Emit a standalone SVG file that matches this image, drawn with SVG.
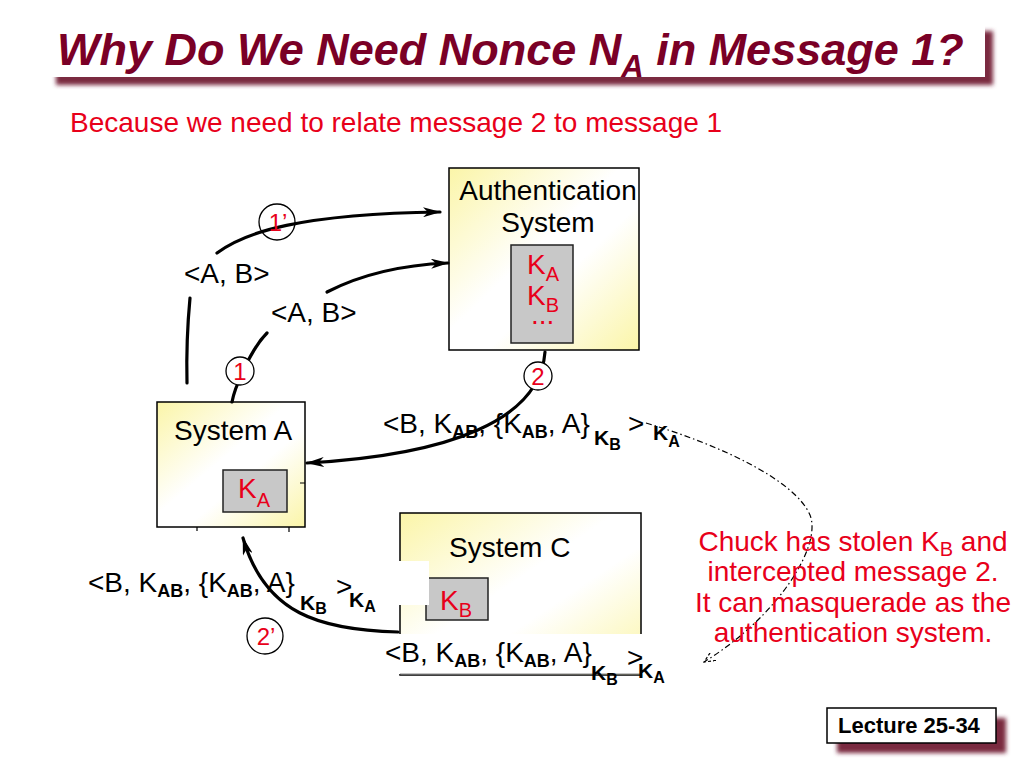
<svg xmlns="http://www.w3.org/2000/svg" width="1024" height="768" viewBox="0 0 1024 768">
<defs>
<style>
text{font-family:"Liberation Sans",Arial,Helvetica,sans-serif}
.t{font-size:28px;fill:#000}
.r{font-size:28px;fill:#e8001a}
.sb{font-size:18px;font-weight:bold}
.bk{font-size:21px;font-weight:bold;fill:#000}
.bs{font-size:16px;font-weight:bold}
.rs{font-size:20px}
.box{stroke:#000;stroke-width:1.5;fill:url(#yel)}
.key{fill:#c8c8c8;stroke:#222;stroke-width:1.5}
.conn{fill:none;stroke:#000;stroke-width:3.2;stroke-linecap:round}
.circ{stroke:#000;stroke-width:1.3}
.num{font-size:24px;fill:#e8001a;text-anchor:middle}
</style>
<linearGradient id="yel" x1="0" y1="0" x2="1" y2="1">
<stop offset="0" stop-color="#fbf5a8"/>
<stop offset="0.45" stop-color="#ffffff"/>
<stop offset="0.6" stop-color="#ffffff"/>
<stop offset="1" stop-color="#fbf5a8"/>
</linearGradient>
<filter id="blur" x="-5%" y="-20%" width="110%" height="140%">
<feGaussianBlur stdDeviation="2"/>
</filter>
<marker id="arr" markerUnits="userSpaceOnUse" markerWidth="18" markerHeight="10" viewBox="0 0 18 10" refX="17" refY="5" orient="auto">
<path d="M0,0 L18,5 L0,10 L5,5 z" fill="#000"/>
</marker>
<marker id="arr2" markerUnits="userSpaceOnUse" markerWidth="12" markerHeight="10" viewBox="0 0 12 10" refX="11" refY="5" orient="auto">
<path d="M0,0 L11,5 L0,10" fill="none" stroke="#000" stroke-width="1.2" stroke-dasharray="3 2"/>
</marker>
</defs>
<rect width="1024" height="768" fill="#fff"/>

<g id="title">
<rect x="56" y="31" width="937" height="54" fill="#7a2a40" filter="url(#blur)"/>
<rect x="48" y="23" width="937" height="54" fill="#fff"/>
<text x="57" y="65" font-size="45" font-weight="bold" font-style="italic" fill="#7a0026">Why Do We Need Nonce N<tspan font-size="31" dy="12">A</tspan><tspan dy="-12"> in Message 1?</tspan></text>
</g>

<text id="subtitle" x="70" y="132" class="r">Because we need to relate message 2 to message 1</text>

<g id="auth">
<rect x="449" y="168" width="190" height="182" class="box"/>
<text x="548" y="200" class="t" text-anchor="middle">Authentication</text>
<text x="548" y="232" class="t" text-anchor="middle">System</text>
<rect x="511" y="245" width="62" height="98" class="key"/>
<text x="527" y="274" class="r">K<tspan class="rs" dy="7">A</tspan></text>
<text x="527" y="305" class="r">K<tspan class="rs" dy="7">B</tspan></text>
<text x="531" y="324" class="r" font-size="24">...</text>
</g>

<g id="systemA">
<rect x="157" y="402" width="148" height="125" class="box"/>
<text x="174" y="440" class="t">System A</text>
<rect x="223" y="470" width="64" height="42" class="key"/>
<text x="238" y="498" class="r">K<tspan class="rs" dy="9">A</tspan></text>
<path d="M300,483 H305 M197,527 v4 M289,527 v5" stroke="#000" stroke-width="1.2"/>
</g>

<g id="systemC">
<rect x="400" y="513" width="241" height="162" class="box"/>
<text x="449" y="557" class="t">System C</text>
<rect x="426" y="578" width="62" height="42" class="key"/>
<rect x="399" y="561" width="30" height="44" fill="#fff"/>
<text x="440" y="610" class="r">K<tspan class="rs" dy="7">B</tspan></text>
<rect x="398" y="634" width="246" height="40" fill="#fff"/>
<line x1="400" y1="674" x2="641" y2="674" stroke="#888" stroke-width="1"/>
</g>

<g id="connectors">
<path class="conn" d="M187,383 Q186,340 190,298"/>
<path class="conn" d="M217,253 C245,232 300,214 440,212" marker-end="url(#arr)"/>
<path class="conn" d="M232,402 C234,390 250,350 267,333"/>
<path class="conn" d="M327,292 C360,275 400,265 448,263" marker-end="url(#arr)"/>
<path class="conn" d="M545,352 C540,420 450,455 307,463" marker-end="url(#arr)"/>
<path class="conn" d="M398,632 C320,630 265,614 243,538" marker-end="url(#arr)"/>
<path d="M646,423 C720,445 795,480 810,515 C822,545 780,615 704,662" fill="none" stroke="#000" stroke-width="1.2" stroke-dasharray="6 3 1.5 3" marker-end="url(#arr2)"/>
</g>

<g id="labels">
<text x="184" y="283" class="t">&lt;A, B&gt;</text>
<text x="271" y="322" class="t">&lt;A, B&gt;</text>

<text x="383" y="433" class="t">&lt;B, K<tspan class="sb" dy="5">AB</tspan><tspan dy="-5">, {K</tspan><tspan class="sb" dy="5">AB</tspan><tspan dy="-5">, A}</tspan></text>
<text x="594" y="445" class="bk">K<tspan class="bs" dy="5">B</tspan></text>
<text x="628" y="433" class="t">&gt;</text>
<text x="653" y="440" class="bk">K<tspan class="bs" dy="7">A</tspan></text>

<text x="88" y="592" class="t">&lt;B, K<tspan class="sb" dy="5">AB</tspan><tspan dy="-5">, {K</tspan><tspan class="sb" dy="5">AB</tspan><tspan dy="-5">, A}</tspan></text>
<text x="300" y="610" class="bk">K<tspan class="bs" dy="4">B</tspan></text>
<text x="336" y="596" class="t">&gt;</text>
<text x="349" y="607" class="bk">K<tspan class="bs" dy="5">A</tspan></text>

<text x="385" y="662" class="t">&lt;B, K<tspan class="sb" dy="5">AB</tspan><tspan dy="-5">, {K</tspan><tspan class="sb" dy="5">AB</tspan><tspan dy="-5">, A}</tspan></text>
<text x="591" y="680" class="bk">K<tspan class="bs" dy="5">B</tspan></text>
<text x="627" y="667" class="t">&gt;</text>
<text x="638" y="678" class="bk">K<tspan class="bs" dy="5">A</tspan></text>
</g>

<g id="steps">
<circle cx="277" cy="222" r="18" fill="none" class="circ"/>
<text x="278" y="231" class="num" font-size="26">1’</text>
<circle cx="240" cy="371" r="14" fill="#fff" class="circ"/>
<text x="240" y="380" class="num">1</text>
<circle cx="538" cy="376" r="14" fill="#fff" class="circ"/>
<text x="538" y="385" class="num">2</text>
<circle cx="265" cy="636" r="18" fill="#fff" class="circ"/>
<text x="266" y="645" class="num" font-size="26">2’</text>
</g>

<g id="note">
<text x="853" y="551" class="r" text-anchor="middle">Chuck has stolen K<tspan class="rs" dy="5">B</tspan><tspan dy="-5"> and</tspan></text>
<text x="853" y="581" class="r" text-anchor="middle">intercepted message 2.</text>
<text x="853" y="612" class="r" text-anchor="middle">It can masquerade as the</text>
<text x="853" y="642" class="r" text-anchor="middle">authentication system.</text>
</g>

<g id="lecture">
<rect x="837" y="718" width="169" height="35" fill="#7a2a40" filter="url(#blur)"/>
<rect x="827" y="708" width="169" height="35" fill="#fff" stroke="#000" stroke-width="1.5"/>
<text x="838" y="733" font-size="22" font-weight="bold" fill="#000">Lecture 25-34</text>
</g>
</svg>
